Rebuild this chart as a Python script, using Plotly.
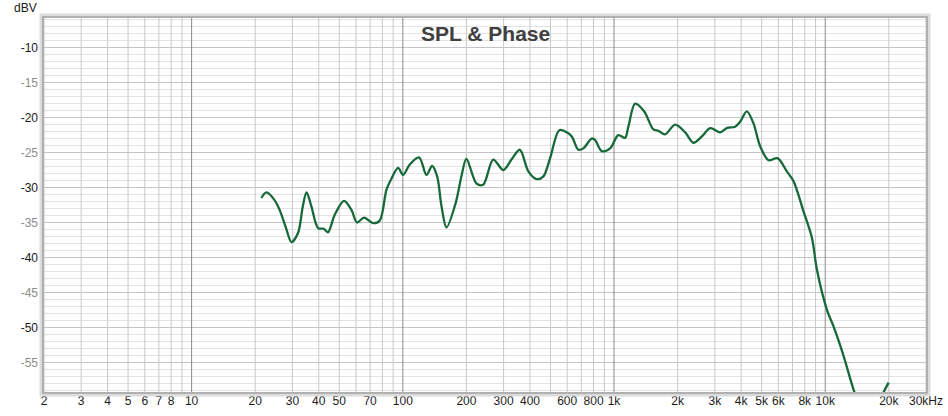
import numpy as np
import plotly.graph_objects as go

# ---- data ----
freq_hz = [21.4, 22.6, 24.7, 26.1, 28.0, 29.7, 31.9, 33.6, 35.0, 36.9, 39.7, 42.2, 44.2,
           47.6, 52.7, 57.1, 60.7, 65.5, 72.3, 77.8, 83.7, 88.4, 95.0, 100.3, 107.9,
           119.4, 129.4, 137.6, 145.4, 152.5, 161, 178, 190, 200, 223, 240, 268, 299,
           327, 358, 393, 430, 463, 498, 551, 597, 631, 678, 716, 784, 813, 875, 958,
           1048, 1127, 1169, 1259, 1388, 1536, 1622, 1745, 1946, 2171, 2377, 2606,
           2853, 3180, 3420, 3745, 3953, 4253, 4571, 4920, 5387, 5943, 6580, 7080,
           7890, 8650, 9140, 10190, 10960, 12220, 13620, 14500, 16000, 17500, 18880,
           19950]
spl_dbv = [-31.5, -30.7, -31.8, -33.2, -35.8, -37.8, -36.5, -32.7, -30.7, -32.7, -35.8,
           -35.9, -36.4, -33.9, -31.9, -33.2, -35.0, -34.3, -35.1, -34.7, -30.3, -28.7,
           -27.2, -28.2, -26.7, -25.7, -28.2, -26.9, -28.4, -32.7, -35.7, -32.2, -28.2,
           -25.9, -29.4, -29.6, -26.0, -27.5, -26.0, -24.6, -27.7, -28.8, -28.4, -25.8,
           -21.8, -22.1, -22.7, -24.6, -24.4, -23.0, -23.2, -24.8, -24.4, -22.5, -22.9,
           -21.3, -18.0, -19.1, -21.7, -21.9, -22.4, -21.0, -22.1, -23.6, -22.7, -21.5,
           -22.1, -21.5, -21.3, -20.6, -19.1, -20.8, -24.1, -26.1, -25.8, -27.7, -29.1,
           -33.4, -37.2, -41.8, -47.5, -49.9, -54.1, -58.9, -61.0, -62.5, -61.5, -59.3,
           -57.9]

x_tick_vals = [2, 3, 4, 5, 6, 7, 8, 10, 20, 30, 40, 50, 70, 100, 200, 300, 400, 600,
               800, 1000, 2000, 3000, 4000, 5000, 6000, 8000, 10000, 20000, 30000]
x_tick_text = ["2", "3", "4", "5", "6", "7", "8", "10", "20", "30", "40", "50", "70",
               "100", "200", "300", "400", "600", "800", "1k", "2k", "3k", "4k", "5k",
               "6k", "8k", "10k", "20k", "30kHz"]
y_tick_vals = [-55, -50, -45, -40, -35, -30, -25, -20, -15, -10]

X_MIN, X_MAX = 2, 30000
Y_MIN, Y_MAX = -59.24, -5.76

# ---- grid lines drawn as traces in data space ----
minor_x, minor_y, dec_x, dec_y = [], [], [], []
for d in [1, 10, 100, 1000, 10000]:
    for m in range(1, 10):
        v = m * d
        if v < X_MIN or v > X_MAX:
            continue
        if m == 1:
            dec_x += [v, v, None]
            dec_y += [Y_MIN - 5, Y_MAX + 5, None]
        else:
            minor_x += [v, v, None]
            minor_y += [Y_MIN - 5, Y_MAX + 5, None]

fig = go.Figure()
fig.add_trace(go.Scatter(x=minor_x, y=minor_y, mode="lines",
                         line=dict(color="#c8c8c8", width=1), hoverinfo="skip",
                         showlegend=False))
fig.add_trace(go.Scatter(x=dec_x, y=dec_y, mode="lines",
                         line=dict(color="#8a8a8a", width=1), hoverinfo="skip",
                         showlegend=False))
fig.add_trace(go.Scatter(x=freq_hz, y=spl_dbv, mode="lines",
                         line=dict(color="#17693a", width=2.3, shape="spline",
                                   smoothing=0.9),
                         hoverinfo="x+y", showlegend=False))

y_text = []
for v in y_tick_vals:
    if v % 10 == 0:
        y_text.append(f"<span style='color:#1a1a1a'>{v}</span>")
    else:
        y_text.append(f"<span style='color:#8c8c8c'>{v}</span>")

W, H = 948, 416
L, R, T, B = 44, 22, 18, 24
PW, PH = W - L - R, H - T - B

fig.update_layout(
    width=W, height=H,
    margin=dict(l=L, r=R, t=T, b=B, autoexpand=False),
    paper_bgcolor="white", plot_bgcolor="white",
    font=dict(family="Liberation Sans, Arial, sans-serif", size=12, color="#1a1a1a"),
    xaxis=dict(type="log", range=[np.log10(X_MIN), np.log10(X_MAX)],
               tickmode="array", tickvals=x_tick_vals, ticktext=x_tick_text,
               showgrid=False, zeroline=False, showline=False, ticks="",
               automargin=False,
               tickfont=dict(size=12, color="#1a1a1a"), fixedrange=True),
    yaxis=dict(range=[Y_MIN, Y_MAX], tickmode="array", tickvals=y_tick_vals,
               ticktext=y_text, showgrid=True, gridcolor="#c4c4c4", gridwidth=1,
               zeroline=False, showline=False, ticks="", automargin=False,
               minor=dict(dtick=1, showgrid=True, gridcolor="#e4e4e4", gridwidth=1),
               tickfont=dict(size=12), ticklabelstandoff=5, fixedrange=True),
)

# bevelled frame around the plot area (paper coords, may extend outside)
px = 1.0 / PW
py = 1.0 / PH
fig.add_shape(type="rect", xref="paper", yref="paper",
              x0=-3 * px, x1=1 + 3 * px, y0=-3 * py, y1=1 + 3 * py,
              line=dict(color="#dcdcdc", width=3), layer="above")
fig.add_shape(type="rect", xref="paper", yref="paper",
              x0=-1 * px, x1=1 + 1 * px, y0=-1 * py, y1=1 + 1 * py,
              line=dict(color="#b0b0b0", width=2), layer="above")

fig.add_annotation(text="<b>SPL &amp; Phase</b>", xref="paper", yref="paper",
                   x=0.5, y=0.9586, xanchor="center", yanchor="middle",
                   showarrow=False,
                   font=dict(family="Liberation Sans, Arial, sans-serif", size=21,
                             color="#404040"))
fig.add_annotation(text="dBV", xref="paper", yref="paper", x=-0.0057, y=1.0,
                   xanchor="right", yanchor="bottom", yshift=1, showarrow=False,
                   font=dict(size=12, color="#1a1a1a"))

fig.write_html("out.html", config={"displayModeBar": False},
               post_script="document.body.style.margin='0px';"
                           "document.body.style.padding='0px';")
